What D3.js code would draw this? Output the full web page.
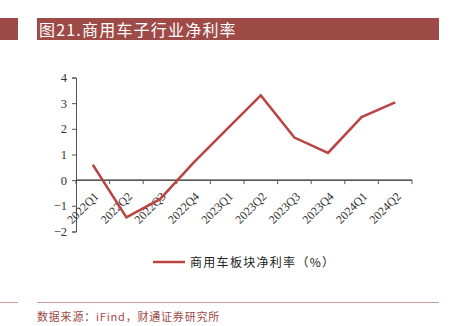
<!DOCTYPE html>
<html><head><meta charset="utf-8">
<script src="https://cdn.jsdelivr.net/npm/d3@7"></script>
<style>body{margin:0;background:#fff;}svg{display:block;}</style>
</head><body>
<script>
const categories = ["2022Q1","2022Q2","2022Q3","2022Q4","2023Q1","2023Q2","2023Q3","2023Q4","2024Q1","2024Q2"];
const netMargin = [0.6, -1.45, -0.74, 0.68, 2.0, 3.3, 1.66, 1.06, 2.46, 3.03];
const yTicks = [-2,-1,0,1,2,3,4];
const titleText = "图21.商用车子行业净利率";
const legendText = "商用车板块净利率（%）";
const sourceText = "数据来源：iFind，财通证券研究所";

const W = 455, H = 326;
const svg = d3.select("body").append("svg").attr("width", W).attr("height", H);
const red = "#9e4a46";

// header
svg.append("rect").attr("x",0).attr("y",18).attr("width",18).attr("height",22).attr("fill",red);
svg.append("rect").attr("x",37).attr("y",18).attr("width",402).attr("height",22).attr("fill",red);
svg.append("text").attr("x",39).attr("y",35.5).attr("fill","#fff")
  .attr("font-family","'Noto Sans CJK SC', serif").attr("font-size",16).attr("letter-spacing",1.2)
  .text(titleText);

const x = d3.scaleBand().domain(categories).range([76, 412]);
const y = d3.scaleLinear().domain([-2, 4]).range([231.5, 77.5]);

// y axis
const yAxis = svg.append("g").attr("transform","translate(76,0)")
  .call(d3.axisLeft(y).tickValues(yTicks).tickSize(4).tickFormat(d3.format("d")));
yAxis.select(".domain").attr("stroke","#555");
yAxis.selectAll(".tick line").attr("stroke","#555");
yAxis.selectAll("text").attr("font-family","'Liberation Serif', serif").attr("font-size",12.5).attr("fill","#333").attr("dx",-2);

// x axis at y=0
const xg = svg.append("g").attr("transform",`translate(0,${y(0)})`);
xg.append("line").attr("x1",76).attr("x2",412).attr("stroke","#222").attr("stroke-width",1.2);
const bounds = categories.map(c => x(c)).concat([x.range()[1]]);
xg.selectAll(".tk").data(bounds).join("line")
  .attr("x1",d=>d).attr("x2",d=>d).attr("y1",0).attr("y2",4).attr("stroke","#555");
xg.selectAll(".lbl").data(categories).join("text")
  .attr("transform", d => `translate(${x(d)+x.bandwidth()/2+6.5},${17}) rotate(-45)`)
  .attr("text-anchor","end")
  .attr("font-family","'Liberation Serif', serif").attr("font-size",12).attr("fill","#333")
  .text(d=>d);

// line
const line = d3.line().x((d,i)=>x(categories[i])+x.bandwidth()/2).y(d=>y(d));
svg.append("path").datum(netMargin).attr("d",line).attr("fill","none")
  .attr("stroke","#b94442").attr("stroke-width",2.5).attr("stroke-linejoin","miter");

// legend
svg.append("line").attr("x1",153).attr("x2",185).attr("y1",262).attr("y2",262).attr("stroke","#b94442").attr("stroke-width",2.5);
svg.append("text").attr("x",190).attr("y",266.5).attr("font-family","'Noto Sans CJK SC', serif")
  .attr("font-size",12).attr("letter-spacing",1.3).attr("fill","#222").text(legendText);

// footer
svg.append("line").attr("x1",0).attr("x2",18).attr("y1",302.5).attr("y2",302.5).attr("stroke","#c99a98");
svg.append("line").attr("x1",37).attr("x2",439).attr("y1",302.5).attr("y2",302.5).attr("stroke","#c99a98");
svg.append("text").attr("x",37).attr("y",321).attr("font-family","'Noto Sans CJK SC', serif")
  .attr("font-size",11).attr("letter-spacing",0.8).attr("fill",red).text(sourceText);
</script>
</body></html>
